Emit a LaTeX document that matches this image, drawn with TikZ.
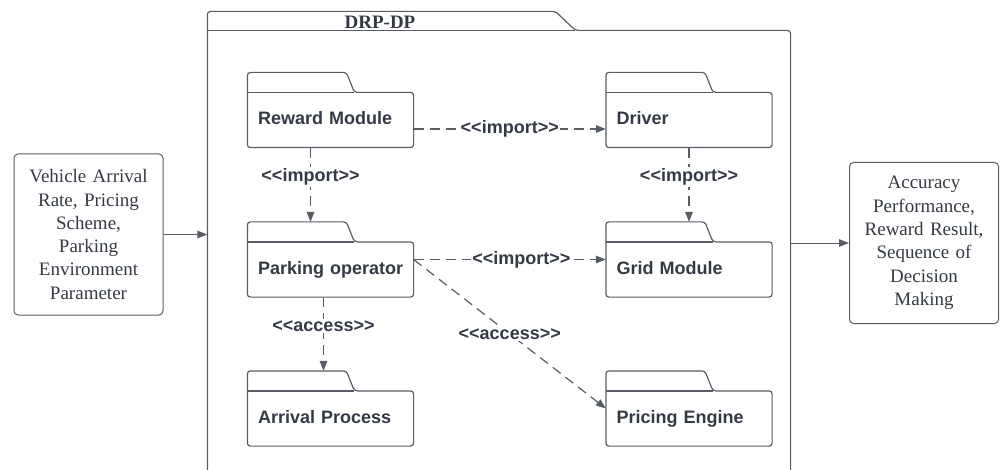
\documentclass[tikz,border=0pt]{standalone}
\usepackage{fontspec}
\setmainfont{Liberation Serif}
\newfontfamily\pkgfont{Liberation Sans}
\usetikzlibrary{arrows.meta}

\definecolor{lineC}{RGB}{88,93,101}
\definecolor{textC}{RGB}{52,58,68}

\tikzset{every picture/.style={line width=1.2pt}}
\tikzset{
  pkgline/.style={draw=lineC,line width=1.2pt},
  pkg/.style={inner xsep=10pt,inner ysep=0pt,minimum width=165pt,minimum height=54pt,text width=145pt,align=left,
    text height=13pt,text depth=4pt,text=textC,font=\pkgfont\bfseries\fontsize{18}{22}\selectfont},
  lbl/.style={fill=white,inner sep=1.5pt,text=textC,font=\pkgfont\bfseries\fontsize{18}{22}\selectfont},
  iobox/.style={draw=lineC,line width=1pt,rounded corners=4pt,minimum height=161pt,text width=140pt,
    inner xsep=4.5pt,align=center,text=textC,font=\fontsize{19}{23.3}\selectfont},
  dep/.style={draw=lineC,line width=1.2pt,dash pattern=on 10pt off 6pt,-{Triangle[length=10pt,width=7.5pt]}},
  flow/.style={draw=lineC,line width=1pt,-{Triangle[length=10pt,width=7.5pt]}}
}

% package outline: tab on the top left of a body node
\newcommand{\pkgoutline}[1]{%
  \draw[pkgline] (#1.north west) -- ++(107,0);
  \draw[pkgline,rounded corners=3pt] (#1.south west) -- (#1.north west) -- ++(0,-20) -- ++(99,0) -- ++(8,20)
    -- (#1.north east) -- (#1.south east) -- cycle;}

\begin{document}
\begin{tikzpicture}[x=1pt,y=-1pt]
\useasboundingbox (0,0) rectangle (1000,470);

%Shape: outer package
\node[minimum width=582pt,minimum height=440pt,inner sep=0pt] (sys) at (499,251) {};
\draw[pkgline] (sys.north west) -- ++(368,0);
\draw[pkgline,rounded corners=3pt] (sys.south west) -- (sys.north west) -- ++(0,-19) -- ++(348,0) -- ++(20,19)
  -- (sys.north east) -- (sys.south east);
% Text Node
\node[text=textC,font=\bfseries\fontsize{19}{22}\selectfont] (ttl) at (380,22) {DRP-DP};

%Packages
\node[pkg] (rew) at (330.5,120) {\mbox{Reward Module}};
\node[pkg] (drv) at (689,120) {\mbox{Driver}};
\node[pkg] (park) at (330.5,269.5) {\mbox{Parking operator}};
\node[pkg] (grid) at (689,269.5) {\mbox{Grid Module}};
\node[pkg] (arr) at (330.5,418.5) {\mbox{Arrival Process}};
\node[pkg] (prc) at (689,418.5) {\mbox{Pricing Engine}};
\foreach \p in {rew,drv,park,grid,arr,prc} {\pkgoutline{\p}}

%Dependencies
\draw[dep] ([yshift=-9pt]rew.east) -- node[lbl] (l1) {<\kern0pt<import>\kern0pt>} ([yshift=-9pt]drv.west);
\draw[dep] ([xshift=-20pt]rew.south) -- node[lbl,pos=0.4] (l2) {<\kern0pt<import>\kern0pt>} ([xshift=-20pt,yshift=20pt]park.north);
\draw[dep] (drv.south) -- node[lbl,pos=0.4] (l3) {<\kern0pt<import>\kern0pt>} ([yshift=20pt]grid.north);
\draw[dep] ([yshift=10pt]park.east) -- node[lbl,pos=0.56] (l4) {<\kern0pt<import>\kern0pt>} ([yshift=10pt]grid.west);
\draw[dep] ([xshift=-7pt]park.south) -- node[lbl,pos=0.39] (l5) {<\kern0pt<access>\kern0pt>} ([xshift=-7pt,yshift=20pt]arr.north);
\draw[dep] ([yshift=10pt]park.east) -- node[lbl,pos=0.5] (l6) {<\kern0pt<access>\kern0pt>} ([yshift=10pt]prc.west);

%Input / output
\node[iobox] (inp) at (88.5,234.5) {Vehicle Arrival\\Rate, Pricing\\Scheme,\\Parking\\Environment\\Parameter};
\node[iobox] (outp) at (924,243) {Accuracy\\Performance,\\Reward Result,\\Sequence of\\Decision\\Making};
\draw[flow] (inp.east) -- (inp.east -| sys.west);
\draw[flow] (outp.west -| sys.east) -- (outp.west);

\end{tikzpicture}
\end{document}
